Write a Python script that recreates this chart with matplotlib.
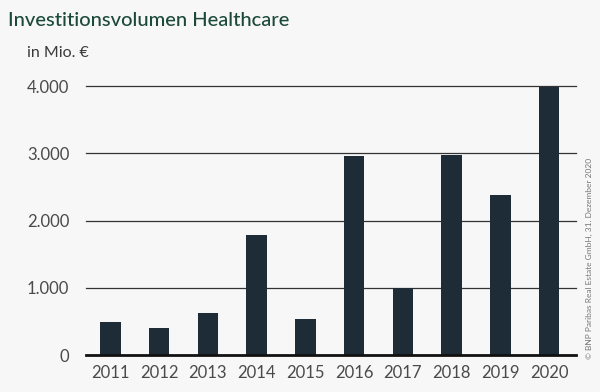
import matplotlib.pyplot as plt
from matplotlib.ticker import FuncFormatter

plt.rcParams['font.family'] = ['Lato', 'DejaVu Sans']

# Daten
jahre = ["2011", "2012", "2013", "2014", "2015", "2016", "2017", "2018", "2019", "2020"]
volumen = [490, 400, 625, 1785, 535, 2960, 1000, 2975, 2380, 3985]
y_ticks = [0, 1000, 2000, 3000, 4000]

bg = "#f7f7f7"
bar_col = "#1e2c37"

fig = plt.figure(figsize=(6, 3.92), dpi=100, facecolor=bg)
ax = fig.add_axes([86 / 600, 1 - 355 / 392, 490 / 600, 269 / 392])
ax.set_facecolor(bg)

x = range(len(jahre))
ax.bar(x, volumen, width=0.42, color=bar_col, zorder=3)

ax.set_xlim(-0.5, 9.55)
ax.set_ylim(0, 4000)
ax.set_yticks(y_ticks)
ax.yaxis.set_major_formatter(FuncFormatter(lambda v, p: f"{int(v):,}".replace(",", ".")))
ax.set_xticks(list(x))
ax.set_xticklabels(jahre)

# Gitterlinien
for t in y_ticks[1:]:
    ax.axhline(t, color="#333333", lw=0.9, zorder=1, clip_on=False)

for s in ["top", "right", "left"]:
    ax.spines[s].set_visible(False)
ax.spines["bottom"].set_color("#111111")
ax.spines["bottom"].set_linewidth(2)
ax.spines["bottom"].set_zorder(4)

ax.tick_params(axis="both", length=0, labelsize=12, labelcolor="#4a4a4a")
ax.tick_params(axis="x", pad=7)
ax.tick_params(axis="y", pad=12)

fig.text(8 / 600, 1 - 20 / 392, "Investitionsvolumen Healthcare", fontsize=14.5,
         color="#1b4a3b", va="center", ha="left", weight="medium")
fig.text(27 / 600, 1 - 53 / 392, "in Mio. €", fontsize=11.5, color="#3a3a3a",
         va="center", ha="left")
fig.text(589 / 600, 1 - 258 / 392, "© BNP Paribas Real Estate GmbH, 31. Dezember 2020",
         fontsize=6, color="#777777", rotation=90, va="center", ha="center")

fig.savefig("out.png", dpi=100, facecolor=bg)
